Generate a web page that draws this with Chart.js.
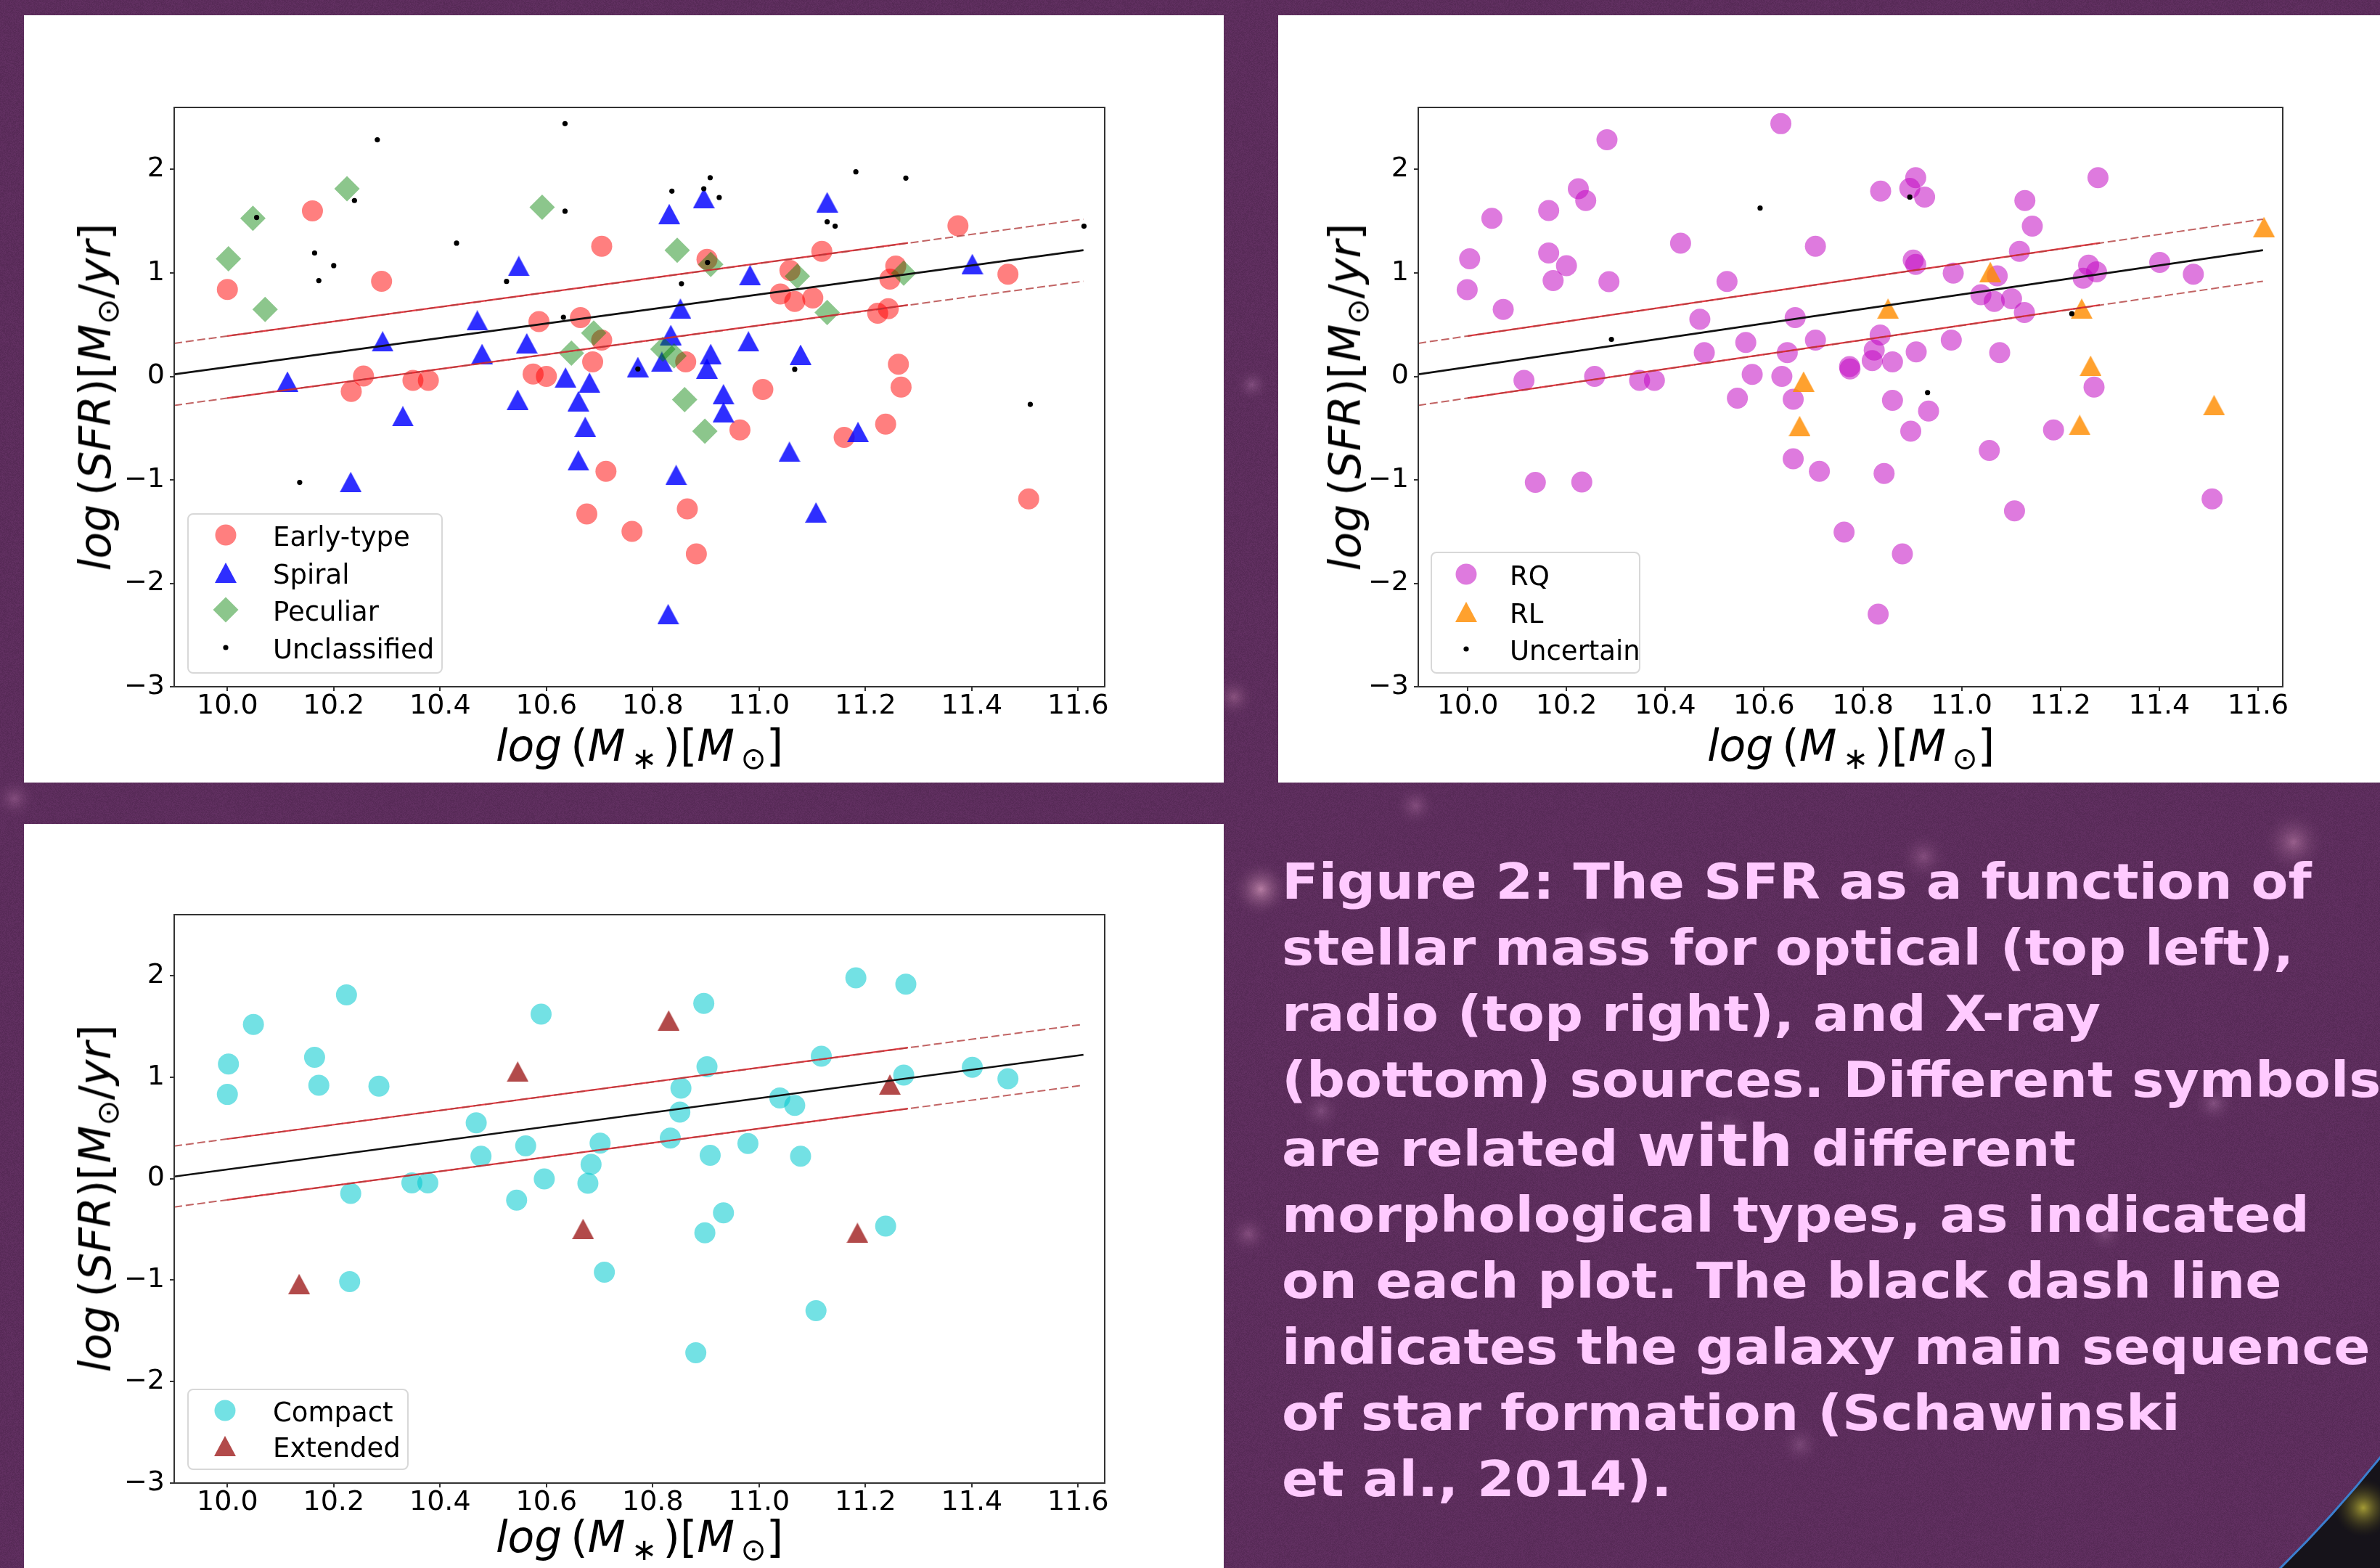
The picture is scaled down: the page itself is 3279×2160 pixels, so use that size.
<!DOCTYPE html>
<html><head><meta charset="utf-8">
<script src="https://cdn.jsdelivr.net/npm/chart.js@4.4.1/dist/chart.umd.min.js"></script>
<style>
html,body{margin:0;padding:0;}
body{width:3279px;height:2160px;overflow:hidden;position:relative;background:#5c2d5c;font-family:'DejaVu Sans',sans-serif;}
#bg{position:absolute;left:0;top:0;}
.panel{position:absolute;background:#fff;}
.panel canvas{position:absolute;left:0;top:0;}
.ttl{position:absolute;font-family:'DejaVu Sans';font-size:60px;color:#000;white-space:nowrap;line-height:1;transform:translate(-50%,-50%);}
.ttl.rot{transform:translate(-50%,-50%) rotate(-90deg);}
.ttl i{font-style:italic;}
.ttl .sb{font-size:0.7em;position:relative;top:0.25em;}
.legbox{position:absolute;border:2px solid #d8d8d8;border-radius:8px;background:rgba(255,255,255,0.8);box-sizing:border-box;}
.legtxt{position:absolute;font-family:'DejaVu Sans';font-size:37px;line-height:1;color:#000;white-space:nowrap;transform:translateY(-50%);}
.legmk{position:absolute;}
#caption{position:absolute;left:1766px;top:1169px;font-family:'DejaVu Sans';font-weight:bold;font-size:68px;line-height:91px;color:#ffcaff;white-space:nowrap;transform:scaleX(1.09);transform-origin:0 0;}
#caption .big{font-size:1.18em;}
</style>
</head><body>
<canvas id="bg" width="3279" height="2160"></canvas>
<div class="panel" id="p1" style="left:33px;top:21px;width:1653px;height:1057px;"><canvas id="c1" width="1653" height="1057"></canvas></div>
<div class="panel" id="p2" style="left:1761px;top:21px;width:1518px;height:1057px;"><canvas id="c2" width="1518" height="1057"></canvas></div>
<div class="panel" id="p3" style="left:33px;top:1135px;width:1653px;height:1025px;"><canvas id="c3" width="1653" height="1025"></canvas></div>
<div id="overlay"></div>
<div id="caption"></div>
<script>
// ---------------- DATA ----------------
const xTickValues = [10.0, 10.2, 10.4, 10.6, 10.8, 11.0, 11.2, 11.4, 11.6];
const xTickLabels = ['10.0', '10.2', '10.4', '10.6', '10.8', '11.0', '11.2', '11.4', '11.6'];
const yTickValues = [-3, -2, -1, 0, 1, 2];
const yTickLabels = ['\u22123', '\u22122', '\u22121', '0', '1', '2'];
const xRange = [9.9, 11.65];
const yRange = [-3, 2.6];

// main sequence line and +-0.3 dex band (endpoints)
const msX = [9.9, 11.61];
const msY = [0.02, 1.22];
const bandUpY = [0.32, 1.52];
const bandLowY = [-0.28, 0.92];
const fitX = [10.0, 11.28];
const fitUpY = [0.39, 1.29];
const fitLowY = [-0.21, 0.69];

// Panel 1: optical morphology
const earlyX = [10.00, 10.16, 10.29, 10.233, 10.256, 10.349, 10.378, 10.586, 10.575, 10.60, 10.664, 10.704, 10.704, 10.687, 10.712, 10.676, 10.761,
  10.902, 10.862, 10.865, 10.882, 10.964, 11.007, 11.04, 11.058, 11.067, 11.101, 11.118, 11.16, 11.223, 11.243, 11.238, 11.246, 11.257, 11.262, 11.267, 11.374, 11.468, 11.507];
const earlyY = [0.84, 1.60, 0.92, -0.145, 0.004, -0.038, -0.038, 0.53, 0.023, 0.0, 0.568, 1.258, 0.351, 0.141, -0.918, -1.33, -1.498,
  1.132, 0.141, -1.28, -1.715, -0.518, -0.126, 0.797, 1.025, 0.724, 0.758, 1.208, -0.59, 0.61, 0.655, -0.461, 0.941, 1.067, 0.118, -0.103, 1.456, 0.987, -1.185];
const spiralX = [10.113, 10.292, 10.330, 10.232, 10.470, 10.479, 10.548, 10.563, 10.546, 10.636, 10.681, 10.660, 10.673, 10.660, 10.772, 10.831, 10.896,
  10.852, 10.834, 10.817, 10.909, 10.902, 10.933, 10.933, 10.980, 10.983, 11.078, 11.057, 11.128, 11.186, 11.107, 10.844, 10.829, 11.401];
const spiralY = [-0.05, 0.339, -0.385, -1.021, 0.541, 0.217, 1.067, 0.32, -0.225, -0.011, -0.061, -0.24, -0.488, -0.812, 0.091, 1.57, 1.723,
  0.655, 0.40, 0.141, 0.217, 0.076, -0.172, -0.347, 0.339, 0.979, 0.21, -0.728, 1.684, -0.537, -1.315, -0.953, -2.298, 1.086];
const peculiarX = [10.048, 10.002, 10.071, 10.225, 10.592, 10.647, 10.689, 10.846, 10.909, 11.072, 11.128, 11.272, 10.819, 10.840, 10.860, 10.898];
const peculiarY = [1.528, 1.136, 0.648, 1.814, 1.635, 0.225, 0.419, 1.22, 1.082, 0.968, 0.617, 0.998, 0.263, 0.198, -0.225, -0.53];
const unclassX = [10.055, 10.282, 10.239, 10.164, 10.200, 10.172, 10.431, 10.525, 10.635, 10.635, 10.632, 10.136, 10.772, 10.836, 10.908, 10.896, 10.925,
  10.854, 10.903, 11.067, 11.128, 11.143, 11.182, 11.276, 11.510, 11.611];
const unclassY = [1.536, 2.287, 1.70, 1.193, 1.071, 0.926, 1.288, 0.918, 2.443, 1.597, 0.572, -1.025, 0.072, 1.791, 1.921, 1.814, 1.73,
  0.896, 1.101, 0.069, 1.494, 1.452, 1.978, 1.917, -0.271, 1.452];

// Panel 2: radio classes
const rqX = [9.999, 10.004, 10.049, 10.072, 10.114, 10.137, 10.164, 10.164, 10.173, 10.200, 10.224, 10.239, 10.231, 10.257, 10.282, 10.286, 10.348, 10.378,
  10.431, 10.470, 10.479, 10.525, 10.546, 10.563, 10.576, 10.634, 10.636, 10.647, 10.663, 10.659, 10.659, 10.704, 10.704, 10.712, 10.773, 10.774, 10.762,
  10.819, 10.823, 10.835, 10.836, 10.843, 10.831,
  10.860, 10.860, 10.907, 10.895, 10.925, 10.902, 10.907, 10.983, 10.908, 10.933, 10.897, 10.979, 10.880, 11.039, 11.066, 11.072, 11.101, 11.127, 11.077,
  11.056, 11.107, 11.117, 11.128, 11.143, 11.186, 11.276, 11.246, 11.257, 11.273, 11.268, 11.401, 11.469, 11.507];
const rqY = [0.838, 1.136, 1.528, 0.648, -0.038, -1.025, 1.604, 1.193, 0.926, 1.071, 1.814, 1.70, -1.021, 0.0, 2.287, 0.915, -0.038, -0.038,
  1.288, 0.553, 0.229, 0.918, -0.21, 0.328, 0.019, 2.443, 0.0, 0.229, 0.568, -0.221, -0.797, 1.258, 0.351, -0.918, 0.095, 0.072, -1.505,
  0.152, 0.255, 0.40, 1.791, -0.938, -2.298,
  0.141, -0.232, 1.921, 1.818, 1.734, 1.124, 1.082, 0.998, 0.236, -0.335, -0.53, 0.351, -1.715, 0.789, 0.724, 0.972, 0.751, 0.617, 0.229,
  -0.716, -1.30, 1.208, 1.70, 1.452, -0.518, 1.921, 0.949, 1.075, 1.01, -0.103, 1.101, 0.987, -1.185];
const rlX = [10.680, 10.672, 10.851, 11.058, 11.243, 11.261, 11.239, 11.511, 11.612];
const rlY = [-0.05, -0.48, 0.655, 1.01, 0.655, 0.103, -0.469, -0.278, 1.444];
const uncertainX = [10.592, 10.291, 10.895, 10.931, 11.223];
const uncertainY = [1.627, 0.358, 1.734, -0.156, 0.606];

// Panel 3: X-ray morphology
const compactX = [10.000, 10.002, 10.049, 10.164, 10.172, 10.224, 10.232, 10.230, 10.285, 10.347, 10.377, 10.468, 10.477, 10.561, 10.544, 10.590, 10.596,
  10.701, 10.684, 10.678, 10.709, 10.833, 10.851, 10.853, 10.896, 10.902, 10.908, 10.933, 10.898, 10.881, 10.979, 11.039, 11.067, 11.078, 11.117,
  11.107, 11.182, 11.276, 11.272, 11.238, 11.401, 11.468];
const compactY = [0.829, 1.128, 1.519, 1.194, 0.919, 1.81, -0.147, -1.016, 0.911, -0.043, -0.043, 0.55, 0.221, 0.322, -0.213, 1.62, -0.004,
  0.349, 0.14, -0.047, -0.922, 0.399, 0.655, 0.891, 1.725, 1.101, 0.229, -0.337, -0.535, -1.717, 0.345, 0.795, 0.721, 0.221, 1.205,
  -1.302, 1.977, 1.915, 1.019, -0.469, 1.097, 0.984];
const extendedX = [10.135, 10.546, 10.669, 10.830, 11.246, 11.185];
const extendedY = [-1.039, 1.054, -0.496, 1.558, 0.926, -0.535];

// ---------------- STYLE ----------------
const COL = {
  early: 'rgba(255,0,0,0.5)', spiral: 'rgba(0,0,255,0.82)', peculiar: 'rgba(0,128,0,0.45)', dot: '#000',
  rq: 'rgba(191,0,191,0.52)', rl: 'rgba(255,140,0,0.82)',
  compact: 'rgba(0,200,205,0.55)', extended: 'rgba(165,42,42,0.85)'
};
const R_CIRCLE = 14.5, R_DIAMOND = 17.5, R_DOT = 3.6, TRI_W = 30, TRI_H = 28;

function triImg(color) {
  const c = document.createElement('canvas');
  c.width = TRI_W; c.height = TRI_H;
  const g = c.getContext('2d');
  g.fillStyle = color;
  g.beginPath(); g.moveTo(TRI_W / 2, 0); g.lineTo(TRI_W, TRI_H); g.lineTo(0, TRI_H); g.closePath(); g.fill();
  return c;
}
function pts(xs, ys) { return xs.map((x, i) => ({x: x, y: ys[i]})); }
function scatterDS(xs, ys, style, color, radius, order) {
  return {data: pts(xs, ys), pointStyle: style, pointRadius: radius, pointHoverRadius: radius,
    backgroundColor: color, borderColor: color, borderWidth: 0, showLine: false, order: order};
}
function lineDS(xs, ys, color, width, dash, order) {
  return {data: pts(xs, ys), showLine: true, pointRadius: 0, borderColor: color, borderWidth: width,
    borderDash: dash, fill: false, order: order};
}
function lineSet() {
  return [
    lineDS(msX, msY, '#111', 2.6, [], 1),
    lineDS(msX, bandUpY, 'rgba(178,60,60,0.8)', 2, [11, 5], 1),
    lineDS(msX, bandLowY, 'rgba(178,60,60,0.8)', 2, [11, 5], 1),
    lineDS(fitX, fitUpY, 'rgba(225,25,35,0.85)', 2.2, [], 1),
    lineDS(fitX, fitLowY, 'rgba(225,25,35,0.85)', 2.2, [], 1)
  ];
}

const framePlugin = {
  id: 'frame',
  afterDatasetsDraw(chart) {
    const a = chart.chartArea, g = chart.ctx;
    g.save(); g.strokeStyle = '#333'; g.lineWidth = 2;
    g.strokeRect(a.left, a.top, a.right - a.left, a.bottom - a.top);
    g.restore();
  }
};

function makeChart(id, box, area, datasets) {
  const tickFont = {family: 'DejaVu Sans', size: 38, lineHeight: 1};
  return new Chart(document.getElementById(id), {
    type: 'scatter',
    data: {datasets: datasets},
    options: {
      responsive: false, animation: false, devicePixelRatio: 1,
      layout: {padding: {left: 0, top: area.t - box.t, right: box.l + box.w - area.r, bottom: 0}},
      plugins: {legend: {display: false}, tooltip: {enabled: false}},
      events: [],
      scales: {
        x: {
          type: 'linear', min: xRange[0], max: xRange[1],
          afterFit: s => { s.height = box.t + box.h - area.b; },
          afterBuildTicks: s => { s.ticks = xTickValues.map(v => ({value: v})); },
          ticks: {callback: (v, i) => xTickLabels[i], font: tickFont, color: '#000', padding: 2, autoSkip: false, maxRotation: 0, minRotation: 0},
          grid: {drawOnChartArea: false, drawTicks: true, tickLength: 6, color: '#333', lineWidth: 2},
          border: {display: true, color: '#333', width: 2}
        },
        y: {
          type: 'linear', min: yRange[0], max: yRange[1],
          afterFit: s => { s.width = area.l - box.l; },
          afterBuildTicks: s => { s.ticks = yTickValues.map(v => ({value: v})); },
          ticks: {callback: (v, i) => yTickLabels[i], font: tickFont, color: '#000', padding: 7, autoSkip: false},
          grid: {drawOnChartArea: false, drawTicks: true, tickLength: 6, color: '#333', lineWidth: 2},
          border: {display: true, color: '#333', width: 2}
        }
      }
    },
    plugins: [framePlugin]
  });
}

// ---------------- BACKGROUND ----------------
(function drawBg() {
  const cv = document.getElementById('bg');
  const g = cv.getContext('2d');
  g.fillStyle = '#5c2d5c'; g.fillRect(0, 0, 3279, 2160);
  // fine grain texture (deterministic hash, decoration only)
  const img = g.getImageData(0, 0, 3279, 2160), d = img.data;
  for (let y = 0; y < 2160; y++) {
    for (let x = 0; x < 3279; x++) {
      let h = (x * 374761393 + y * 668265263) | 0;
      h = Math.imul(h ^ (h >>> 13), 1274126177);
      const n = ((h ^ (h >>> 16)) & 255) / 255 - 0.5;
      const k = (y * 3279 + x) * 4;
      d[k] += n * 14; d[k + 1] += n * 8; d[k + 2] += n * 14;
    }
  }
  g.putImageData(img, 0, 0);
  const glows = [[1737, 1225, 40, 'rgba(255,190,220,0.55)'], [1700, 960, 30, 'rgba(220,150,190,0.35)'], [3160, 1160, 45, 'rgba(240,170,210,0.4)'],
    [2650, 1180, 35, 'rgba(220,150,200,0.3)'], [2200, 1300, 30, 'rgba(200,140,200,0.25)'], [1720, 1700, 30, 'rgba(220,150,200,0.3)'],
    [3050, 1520, 30, 'rgba(220,160,210,0.3)'], [2480, 1990, 30, 'rgba(210,150,200,0.25)'], [1725, 530, 25, 'rgba(210,150,200,0.3)'],
    [1950, 1110, 30, 'rgba(220,150,200,0.3)'], [2900, 1700, 28, 'rgba(210,150,200,0.25)'], [20, 1100, 30, 'rgba(220,150,200,0.3)'],
    [2380, 1560, 35, 'rgba(220,160,210,0.25)'], [1820, 1530, 30, 'rgba(220,160,210,0.25)']];
  glows.forEach(([x, y, r, c]) => {
    const gr = g.createRadialGradient(x, y, 0, x, y, r);
    gr.addColorStop(0, c); gr.addColorStop(1, 'rgba(92,45,92,0)');
    g.fillStyle = gr; g.beginPath(); g.arc(x, y, r, 0, Math.PI * 2); g.fill();
  });
  // dark space beyond the planet limb in the lower right corner
  g.save();
  g.beginPath(); g.rect(0, 0, 3279, 2160); g.arc(1900, 900, 1769, 0, Math.PI * 2, true); g.clip('evenodd');
  g.fillStyle = '#16131a'; g.fillRect(2900, 1800, 379, 360);
  const yg = g.createRadialGradient(3256, 2077, 0, 3256, 2077, 40);
  yg.addColorStop(0, 'rgba(200,190,60,0.8)'); yg.addColorStop(1, 'rgba(60,55,20,0)');
  g.fillStyle = yg; g.fillRect(3200, 2030, 79, 100);
  g.restore();
  g.beginPath(); g.arc(1900, 900, 1769, 0.3, 0.9); g.strokeStyle = '#3b7fcf'; g.lineWidth = 3; g.stroke();
})();

// ---------------- CHARTS ----------------
const P1 = {box: {l: 33, t: 21, w: 1653, h: 1057}, area: {l: 240, t: 148, r: 1522, b: 946}};
const P2 = {box: {l: 1761, t: 21, w: 1518, h: 1057}, area: {l: 1954, t: 148, r: 3145, b: 946}};
const P3 = {box: {l: 33, t: 1135, w: 1653, h: 1025}, area: {l: 240, t: 1260, r: 1522, b: 2043}};

makeChart('c1', P1.box, P1.area, [
  scatterDS(unclassX, unclassY, 'circle', COL.dot, R_DOT, 0),
  ...lineSet(),
  scatterDS(peculiarX, peculiarY, 'rectRot', COL.peculiar, R_DIAMOND, 2),
  scatterDS(spiralX, spiralY, triImg(COL.spiral), COL.spiral, 15, 3),
  scatterDS(earlyX, earlyY, 'circle', COL.early, R_CIRCLE, 4)
]);
makeChart('c2', P2.box, P2.area, [
  scatterDS(uncertainX, uncertainY, 'circle', COL.dot, R_DOT, 0),
  ...lineSet(),
  scatterDS(rlX, rlY, triImg(COL.rl), COL.rl, 15, 3),
  scatterDS(rqX, rqY, 'circle', COL.rq, R_CIRCLE, 4)
]);
makeChart('c3', P3.box, P3.area, [
  ...lineSet(),
  scatterDS(extendedX, extendedY, triImg(COL.extended), COL.extended, 15, 3),
  scatterDS(compactX, compactY, 'circle', COL.compact, R_CIRCLE, 4)
]);

// ---------------- TEXT OVERLAYS ----------------
const ov = document.getElementById('overlay');
function addHTML(html) { ov.insertAdjacentHTML('beforeend', html); }
const yTitle = '<i>log</i>\u2009(<i>SFR</i>)[<i>M</i><span class="sb">\u2299</span>/<i>yr</i>]';
const xTitle = '<i>log</i>\u2009(<i>M</i><span class="sb">\u2009\u2217\u2009</span>)[<i>M</i><span class="sb">\u2009\u2299</span>]';
[[131, 547, 881, 1027], [1853, 547, 2550, 1027], [131, 1651, 881, 2117]].forEach(([yx, yy, xx, xy]) => {
  addHTML(`<div class="ttl rot" style="left:${yx}px;top:${yy}px">${yTitle}</div>`);
  addHTML(`<div class="ttl" style="left:${xx}px;top:${xy}px">${xTitle}</div>`);
});

function marker(kind, color, cx, cy) {
  let s = '';
  if (kind === 'circle') s = `<svg width="30" height="30"><circle cx="15" cy="15" r="${R_CIRCLE}" fill="${color}"/></svg>`;
  if (kind === 'tri') s = `<svg width="30" height="30"><polygon points="15,1 30,29 0,29" fill="${color}"/></svg>`;
  if (kind === 'dia') s = `<svg width="36" height="36"><polygon points="18,0.5 35.5,18 18,35.5 0.5,18" fill="${color}"/></svg>`;
  if (kind === 'dot') s = `<svg width="30" height="30"><circle cx="15" cy="15" r="${R_DOT}" fill="${color}"/></svg>`;
  const w = kind === 'dia' ? 36 : 30;
  addHTML(`<div class="legmk" style="left:${cx - w / 2}px;top:${cy - w / 2}px;width:${w}px;height:${w}px">${s}</div>`);
}
const legend1Labels = ['Early-type', 'Spiral', 'Peculiar', 'Unclassified'];
const legend2Labels = ['RQ', 'RL', 'Uncertain'];
const legend3Labels = ['Compact', 'Extended'];
function legend(box, rows, mx, tx, labels, kinds, colors) {
  addHTML(`<div class="legbox" style="left:${box[0]}px;top:${box[1]}px;width:${box[2] - box[0]}px;height:${box[3] - box[1]}px"></div>`);
  labels.forEach((lab, i) => {
    marker(kinds[i], colors[i], mx, rows[i]);
    addHTML(`<div class="legtxt" style="left:${tx}px;top:${rows[i] + 2}px">${lab}</div>`);
  });
}
legend([258, 707, 610, 928], [737, 789, 840, 892], 311, 376, legend1Labels, ['circle', 'tri', 'dia', 'dot'], [COL.early, COL.spiral, COL.peculiar, COL.dot]);
legend([1971, 760, 2260, 928], [791, 843, 894], 2020, 2080, legend2Labels, ['circle', 'tri', 'dot'], [COL.rq, COL.rl, COL.dot]);
legend([258, 1913, 563, 2025], [1943, 1992], 310, 376, legend3Labels, ['circle', 'tri'], [COL.compact, COL.extended]);

const captionLines = [
  'Figure 2: The SFR as a function of',
  'stellar mass for optical (top left),',
  'radio (top right), and X-ray',
  '(bottom) sources. Different symbols',
  'are related <span class="big">with</span> different',
  'morphological types, as indicated',
  'on each plot. The black dash line',
  'indicates the galaxy main sequence',
  'of star formation (Schawinski',
  'et al., 2014).'
];
document.getElementById('caption').innerHTML = captionLines.map(l => `<div>${l}</div>`).join('');
</script>
</body></html>
